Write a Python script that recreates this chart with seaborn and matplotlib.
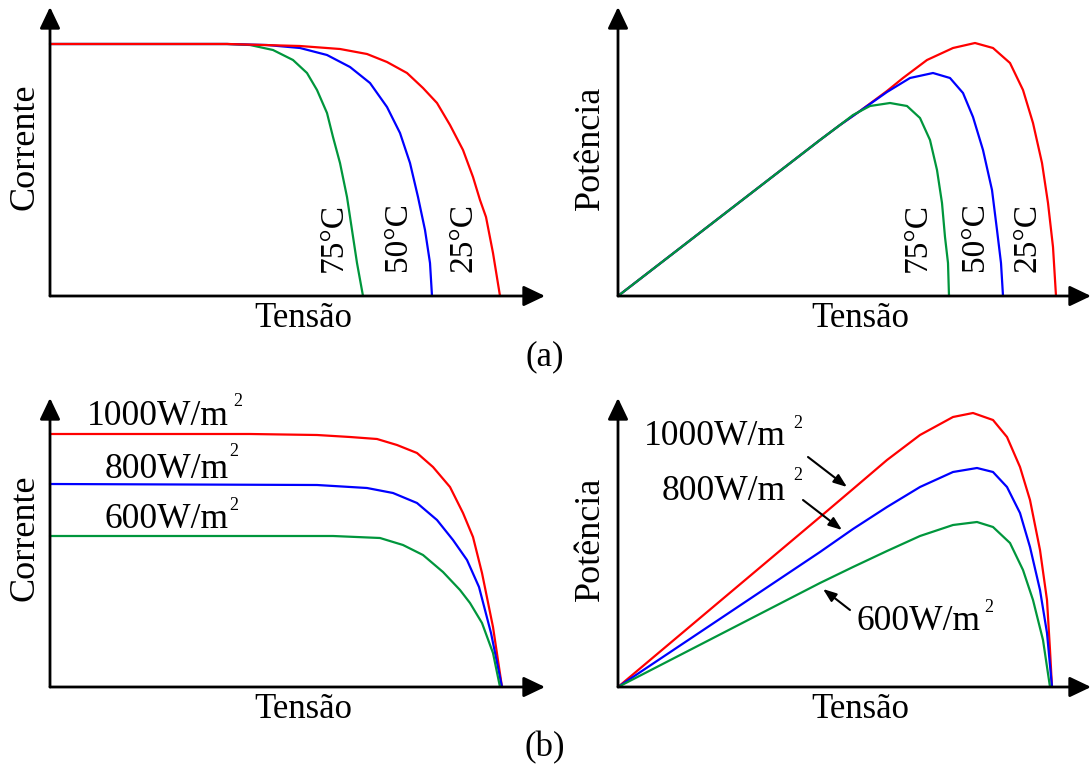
import numpy as np
import pandas as pd
import matplotlib
matplotlib.use("Agg")
import matplotlib.pyplot as plt
import seaborn as sns

sns.set_style("white")
plt.rcParams["font.family"] = ["Liberation Serif", "DejaVu Serif"]
plt.rcParams["text.color"] = "black"

# ---------------- data (arbitrary units) ----------------
temp_labels = ["25°C", "50°C", "75°C"]
irr_labels = ["1000W/m", "800W/m", "600W/m"]
curve_colors = ["#ff0000", "#0000ff", "#00963c"]

# (a) I-V for temperatures
iv_t25_v = [0, 177, 250, 290, 317, 337, 357, 373, 387, 400, 413, 423, 430, 436, 443, 450]
iv_t25_i = [252, 252, 250, 247, 242, 234, 223, 208, 193, 171, 146, 119, 96, 79, 43, 0]
iv_t50_v = [0, 177, 217, 250, 277, 300, 320, 337, 350, 360, 368, 375, 380, 382]
iv_t50_i = [252, 252, 251, 248, 241, 229, 213, 189, 163, 133, 99, 66, 33, 0]
iv_t75_v = [0, 177, 200, 223, 243, 257, 267, 277, 283, 290, 297, 302, 307, 313]
iv_t75_i = [252, 252, 251, 246, 236, 223, 206, 183, 159, 133, 99, 66, 33, 0]

# (a) P-V for temperatures
pv_t25_v = [0, 202, 222, 242, 269, 285, 309, 335, 357, 375, 392, 405, 415, 424, 430, 435, 438]
pv_t25_p = [0, 156, 171, 185, 205, 218, 236, 248, 253, 248, 233, 206, 173, 133, 93, 49, 0]
pv_t50_v = [0, 202, 222, 242, 269, 292, 315, 332, 345, 355, 365, 374, 379, 383, 385]
pv_t50_p = [0, 156, 171, 185, 204, 218, 223, 218, 203, 179, 146, 106, 66, 33, 0]
pv_t75_v = [0, 202, 222, 235, 252, 272, 289, 302, 312, 319, 324, 327, 330, 331]
pv_t75_p = [0, 156, 171, 181, 190, 193, 190, 178, 156, 126, 93, 59, 33, 0]

# (b) I-V for irradiances
iv_g1000_v = [0, 200, 267, 300, 327, 347, 367, 383, 400, 413, 423, 432, 443, 452]
iv_g1000_i = [253, 253, 252, 250, 248, 242, 234, 220, 200, 174, 150, 114, 60, 0]
iv_g800_v = [0, 267, 317, 343, 367, 387, 403, 417, 429, 441, 452]
iv_g800_i = [203, 202, 199, 194, 184, 167, 147, 127, 100, 54, 0]
iv_g600_v = [0, 283, 330, 353, 373, 393, 410, 420, 432, 443, 450]
iv_g600_i = [151, 151, 149, 142, 132, 115, 97, 84, 64, 34, 0]

# (b) P-V for irradiances
pv_g1000_v = [0, 202, 235, 269, 302, 335, 355, 375, 389, 402, 412, 422, 429, 432, 434]
pv_g1000_p = [0, 170, 198, 227, 252, 270, 274, 267, 250, 220, 187, 137, 87, 37, 0]
pv_g800_v = [0, 202, 235, 269, 302, 335, 359, 375, 389, 402, 412, 422, 429, 434]
pv_g800_p = [0, 135, 158, 180, 200, 215, 219, 215, 200, 174, 140, 97, 54, 0]
pv_g600_v = [0, 202, 235, 269, 302, 335, 359, 375, 392, 405, 415, 425, 432]
pv_g600_p = [0, 104, 120, 136, 151, 162, 165, 160, 144, 117, 87, 47, 0]

# ---------------- figure ----------------
W, H = 1092, 769
fig = plt.figure(figsize=(W / 100, H / 100), dpi=100)
fig.patch.set_facecolor("white")

AX_ARROW = dict(arrowstyle="-|>,head_length=1.3,head_width=0.62",
                color="black", lw=2.0, shrinkA=0, shrinkB=0)


def make_axes(x0, y0, width, height):
    # origin (x0, y0) in pixels from top-left, width/height to the arrow tips
    ax = fig.add_axes([x0 / W, (H - y0) / H, width / W, height / H])
    ax.set_xlim(0, width)
    ax.set_ylim(0, height)
    ax.set_xticks([])
    ax.set_yticks([])
    for s in ax.spines.values():
        s.set_visible(False)
    ax.set_facecolor("none")
    ax.annotate("", xy=(1, 0), xytext=(0, 0), xycoords="axes fraction",
                arrowprops=AX_ARROW, annotation_clip=False)
    ax.annotate("", xy=(0, 1), xytext=(0, 0), xycoords="axes fraction",
                arrowprops=AX_ARROW, annotation_clip=False)
    return ax


def draw(ax, xs, ys, color):
    df = pd.DataFrame({"x": xs, "y": ys})
    sns.lineplot(data=df, x="x", y="y", ax=ax, color=color, lw=1.6,
                 estimator=None, sort=False, clip_on=False)
    ax.set_xlabel("")
    ax.set_ylabel("")


FS_X = 25
FS_Y = 26
FS_T = 24
FS_IRR = 25.5
FS_SUP = 13

# ---- (a) left
OX, OY = 50, 296
ax1 = make_axes(OX, OY, 495, 289)
for xs, ys, c in [(iv_t75_v, iv_t75_i, curve_colors[2]),
                  (iv_t50_v, iv_t50_i, curve_colors[1]),
                  (iv_t25_v, iv_t25_i, curve_colors[0])]:
    draw(ax1, xs, ys, c)
for lab, xp in zip(temp_labels, [463, 398, 333]):
    ax1.text(xp - OX, OY - 237, lab, rotation=90, ha="center", va="center", fontsize=FS_T)
fig.text(303 / W, 1 - 318 / H, "Tensão", ha="center", va="center", fontsize=FS_X)
fig.text(25 / W, 1 - 147 / H, "Corrente", ha="center", va="center", rotation=90, fontsize=FS_Y)

# ---- (a) right
OX, OY = 618, 296
ax2 = make_axes(OX, OY, 473, 289)
for xs, ys, c in [(pv_t25_v, pv_t25_p, curve_colors[0]),
                  (pv_t50_v, pv_t50_p, curve_colors[1]),
                  (pv_t75_v, pv_t75_p, curve_colors[2])]:
    draw(ax2, xs, ys, c)
for lab, xp in zip(temp_labels, [1027, 975, 918]):
    ax2.text(xp - OX, OY - 237, lab, rotation=90, ha="center", va="center", fontsize=FS_T)
fig.text(860 / W, 1 - 318 / H, "Tensão", ha="center", va="center", fontsize=FS_X)
fig.text(590 / W, 1 - 148 / H, "Potência", ha="center", va="center", rotation=90, fontsize=FS_Y)

fig.text(545 / W, 1 - 357 / H, "(a)", ha="center", va="center", fontsize=FS_X)

# ---- (b) left
OX, OY = 50, 687
ax3 = make_axes(OX, OY, 495, 289)
for xs, ys, c in [(iv_g1000_v, iv_g1000_i, curve_colors[0]),
                  (iv_g800_v, iv_g800_i, curve_colors[1]),
                  (iv_g600_v, iv_g600_i, curve_colors[2])]:
    draw(ax3, xs, ys, c)
irr_left = [(229, 425, 238, 402), (229, 478, 234, 452), (229, 528, 234, 505)]
for lab, (xr, yb, sx, sy) in zip(irr_labels, irr_left):
    ax3.text(xr - OX, OY - yb, lab, ha="right", va="baseline", fontsize=FS_IRR)
    ax3.text(sx - OX, OY - sy, "2", ha="center", va="center", fontsize=FS_SUP)
fig.text(303 / W, 1 - 710 / H, "Tensão", ha="center", va="center", fontsize=FS_X)
fig.text(25 / W, 1 - 538 / H, "Corrente", ha="center", va="center", rotation=90, fontsize=FS_Y)

# ---- (b) right
OX, OY = 618, 687
ax4 = make_axes(OX, OY, 473, 289)
for xs, ys, c in [(pv_g1000_v, pv_g1000_p, curve_colors[0]),
                  (pv_g800_v, pv_g800_p, curve_colors[1]),
                  (pv_g600_v, pv_g600_p, curve_colors[2])]:
    draw(ax4, xs, ys, c)
irr_right = [(786, 445, 798, 423), (786, 500, 798, 475), (981, 630, 989, 607)]
for lab, (xr, yb, sx, sy) in zip(irr_labels, irr_right):
    ax4.text(xr - OX, OY - yb, lab, ha="right", va="baseline", fontsize=FS_IRR)
    ax4.text(sx - OX, OY - sy, "2", ha="center", va="center", fontsize=FS_SUP)
arrow_px = [((808, 457), (847, 487)), ((803, 500), (842, 530)), ((850, 610), (823, 589))]
for (x0, y0), (x1, y1) in arrow_px:
    ax4.annotate("", xy=(x1 - OX, OY - y1), xytext=(x0 - OX, OY - y0),
                 arrowprops=dict(arrowstyle="-|>,head_length=0.8,head_width=0.3",
                                 color="black", lw=1.5, shrinkA=0, shrinkB=0))
fig.text(860 / W, 1 - 710 / H, "Tensão", ha="center", va="center", fontsize=FS_X)
fig.text(590 / W, 1 - 539 / H, "Potência", ha="center", va="center", rotation=90, fontsize=FS_Y)

fig.text(545 / W, 1 - 748 / H, "(b)", ha="center", va="center", fontsize=FS_X)

fig.savefig("out.png", dpi=100, facecolor="white")
